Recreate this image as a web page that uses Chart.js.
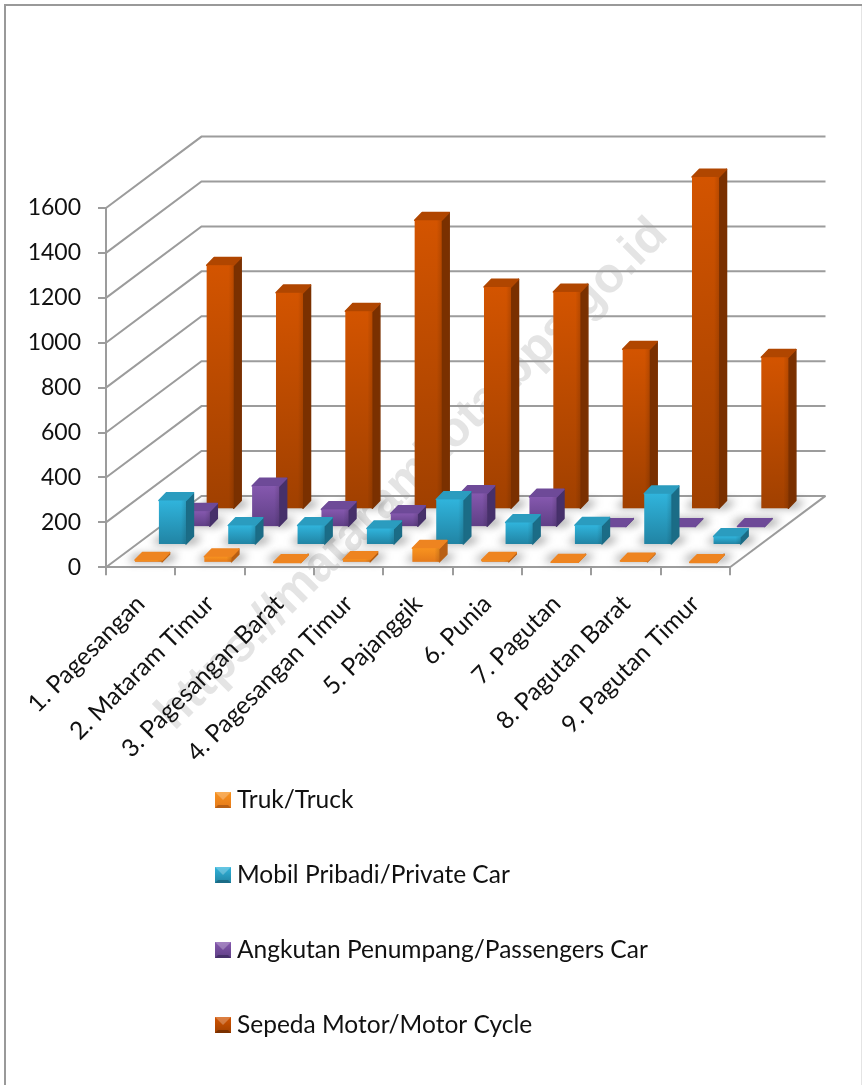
<!DOCTYPE html>
<html>
<head>
<meta charset="utf-8">
<title>Kendaraan</title>
<script src="https://cdn.jsdelivr.net/npm/chart.js@4/dist/chart.umd.min.js"></script>
<style>
    html, body { margin: 0; padding: 0; background: #fff; overflow: hidden; }
    #wrap { position: relative; width: 862px; height: 1085px; }
    #frame { position: absolute; left: 4px; top: 4px; width: 900px; height: 1200px; border: 2px solid #999; box-sizing: border-box; }
    #rightEdge { position: absolute; left: 861px; top: 6px; width: 1px; height: 1079px; background: #e4e4e4; }
    canvas { position: absolute; left: 0; top: 0; filter: blur(0.35px); }
</style>
</head>
<body>
<div id="wrap">
    <div id="frame"></div>
    <div id="rightEdge"></div>
    <canvas id="chart" width="862" height="1085"></canvas>
</div>
<script>
// Data
const categories = ['1. Pagesangan', '2. Mataram Timur', '3. Pagesangan Barat', '4. Pagesangan Timur', '5. Pajanggik', '6. Punia', '7. Pagutan', '8. Pagutan Barat', '9. Pagutan Timur'];
const truk = [12, 27, 2, 15, 65, 12, 3, 8, 2];
const mobil = [198, 87, 87, 73, 203, 100, 88, 228, 38];
const angkutan = [71, 183, 79, 61, 150, 134, 3, 3, 3];
const motor = [1087, 964, 882, 1287, 990, 968, 713, 1480, 677];
const yTicks = [0, 200, 400, 600, 800, 1000, 1200, 1400, 1600];
const seriesNames = ['Truk/Truck', 'Mobil Pribadi/Private Car', 'Angkutan Penumpang/Passengers Car', 'Sepeda Motor/Motor Cycle'];
const watermark = 'https://mataramkota.bps.go.id';

const FONT = 'Lato, Carlito, sans-serif';
const LINE = '#9c9c9c';

// Depth of the floor and of each bar
const DEPTH_X = 95.5, DEPTH_Y = 71.4;
const STEP_X = DEPTH_X / 4, STEP_Y = DEPTH_Y / 4;
const BAR_DX = 7.5, BAR_DY = 7.7;

// Face colours per series: front top, front bottom, side, roof
const palette = [
    { top: '#f8931f', bottom: '#e57a1a', side: '#b85f14', roof: '#ee8420' },
    { top: '#30b4dc', bottom: '#2184a4', side: '#1b6c86', roof: '#2b9cbf' },
    { top: '#8558ae', bottom: '#5f3f86', side: '#46306a', roof: '#6e4a98' },
    { top: '#d35400', bottom: '#a04000', side: '#7a3000', roof: '#b04600' }
];

function prism(bar, i) {
    const w = bar.width;
    const x0 = bar.x + (i + 0.33) * STEP_X - w / 2;
    const shift = (i + 0.25) * STEP_Y;
    return { x0, x1: x0 + w, yt: bar.y - shift, yb: bar.base - shift };
}

function poly(ctx, pts) {
    ctx.beginPath();
    pts.forEach((p, k) => k ? ctx.lineTo(p[0], p[1]) : ctx.moveTo(p[0], p[1]));
    ctx.closePath();
}

class Bar3DController extends Chart.BarController {
    draw() {
        const ctx = this.chart.ctx;
        const i = this.index;
        const c = palette[i];
        this.getMeta().data.forEach(bar => {
            const { x0, x1, yt, yb } = prism(bar, i);
            ctx.save();
            ctx.lineJoin = 'round';
            ctx.lineWidth = 1.5;
            // side
            ctx.fillStyle = c.side;
            ctx.strokeStyle = c.side;
            poly(ctx, [[x1, yt], [x1 + BAR_DX, yt - BAR_DY], [x1 + BAR_DX, yb - BAR_DY], [x1, yb]]);
            ctx.fill();
            ctx.stroke();
            // roof
            ctx.fillStyle = c.roof;
            ctx.strokeStyle = c.roof;
            poly(ctx, [[x0, yt], [x0 + BAR_DX, yt - BAR_DY], [x1 + BAR_DX, yt - BAR_DY], [x1, yt]]);
            ctx.fill();
            ctx.stroke();
            // front
            if (yb - yt > 0.5) {
                const g = ctx.createLinearGradient(0, yt, 0, yb);
                g.addColorStop(0, c.top);
                g.addColorStop(1, c.bottom);
                ctx.fillStyle = g;
                ctx.fillRect(x0, yt, x1 - x0, yb - yt);
                // soft right edge of the front face
                const e = ctx.createLinearGradient(x1 - 5, 0, x1, 0);
                e.addColorStop(0, 'rgba(0,0,0,0)');
                e.addColorStop(1, 'rgba(0,0,0,0.12)');
                ctx.fillStyle = e;
                ctx.fillRect(x1 - 5, yt, 5, yb - yt);
            }
            ctx.restore();
        });
    }
}
Bar3DController.id = 'bar3d';
Bar3DController.defaults = Chart.BarController.defaults;
Bar3DController.overrides = Chart.BarController.overrides;
Chart.register(Bar3DController);

// Watermark sits under everything, axis text included
const watermarkPlugin = {
    id: 'watermark',
    beforeDraw(chart) {
        const ctx = chart.ctx;
        ctx.save();
        ctx.translate(165, 722);
        ctx.rotate(-Math.PI / 4);
        ctx.font = 'bold 49px "Liberation Sans", sans-serif';
        ctx.fillStyle = '#e4e4e4';
        ctx.textBaseline = 'middle';
        ctx.fillText(watermark, 0, 0);
        ctx.restore();
    }
};

// Back wall, side wall and floor of the 3D box, plus the bar shadows on the floor
const boxPlugin = {
    id: 'box',
    beforeDatasetsDraw(chart) {
        const ctx = chart.ctx;
        const { left, right } = chart.chartArea;
        const yScale = chart.scales.y;
        ctx.save();
        ctx.strokeStyle = LINE;
        ctx.lineWidth = 2;
        yTicks.forEach(v => {
            const y = yScale.getPixelForValue(v);
            ctx.beginPath();
            ctx.moveTo(left, y);
            ctx.lineTo(left + DEPTH_X, y - DEPTH_Y);
            ctx.lineTo(right + DEPTH_X, y - DEPTH_Y);
            ctx.stroke();
        });
        const y0 = yScale.getPixelForValue(0);
        ctx.beginPath();
        ctx.moveTo(right, y0);
        ctx.lineTo(right + DEPTH_X, y0 - DEPTH_Y);
        ctx.stroke();

        // blurred footprints
        ctx.fillStyle = 'rgba(70,70,70,0.5)';
        ctx.filter = 'blur(4px)';
        chart.data.datasets.forEach((ds, i) => {
            chart.getDatasetMeta(i).data.forEach(bar => {
                const { x0, x1, yb } = prism(bar, i);
                poly(ctx, [[x0 - 7, yb], [x0 - 7 + BAR_DX, yb - BAR_DY], [x1 + 9 + BAR_DX, yb - BAR_DY], [x1 + 9, yb]]);
                ctx.fill();
            });
        });
        ctx.restore();
    }
};

// Stacked legend with small bevelled squares
const legendPlugin = {
    id: 'stackedLegend',
    afterDraw(chart) {
        const ctx = chart.ctx;
        const rows = [800, 875, 950, 1025];
        const size = 16, x = 215;
        chart.data.datasets.forEach((ds, i) => {
            const c = palette[i];
            const y = rows[i] - size / 2;
            ctx.save();
            const g = ctx.createLinearGradient(0, y, 0, y + size);
            g.addColorStop(0, c.top);
            g.addColorStop(1, c.bottom);
            ctx.fillStyle = g;
            ctx.fillRect(x, y, size, size);
            ctx.fillStyle = c.side;
            poly(ctx, [[x, y + size], [x + 3, y + size - 3], [x + size - 3, y + size - 3], [x + size, y + size]]);
            ctx.fill();
            ctx.fillStyle = 'rgba(255,255,255,0.25)';
            poly(ctx, [[x, y], [x + size, y], [x + size / 2, y + size / 2]]);
            ctx.fill();
            ctx.fillStyle = '#111';
            ctx.font = '24.5px ' + FONT;
            ctx.textBaseline = 'middle';
            ctx.fillText(ds.label, x + 22, rows[i]);
            ctx.restore();
        });
    }
};

function series(i, values) {
    return {
        label: seriesNames[i],
        data: values,
        backgroundColor: palette[i].top,
        grouped: false,
        clip: false,
        categoryPercentage: 1,
        barPercentage: 0.39
    };
}

new Chart(document.getElementById('chart'), {
    type: 'bar3d',
    data: {
        labels: categories,
        datasets: [series(0, truk), series(1, mobil), series(2, angkutan), series(3, motor)]
    },
    options: {
        responsive: false,
        animation: false,
        layout: { padding: { left: 0, top: 208, right: 132, bottom: 0 } },
        plugins: { legend: { display: false }, tooltip: { enabled: false } },
        scales: {
            x: {
                type: 'category',
                offset: true,
                afterFit(scale) { scale.height = 517.7; },
                border: { color: LINE, width: 2 },
                grid: { offset: true, drawOnChartArea: false, color: LINE, lineWidth: 2, tickLength: 8 },
                ticks: {
                    autoSkip: false,
                    maxRotation: 45,
                    minRotation: 45,
                    padding: 14,
                    color: '#111',
                    font: { family: FONT, size: 24.5 }
                }
            },
            y: {
                min: 0,
                max: 1600,
                afterFit(scale) { scale.width = 106; },
                afterBuildTicks(scale) { scale.ticks = yTicks.map(v => ({ value: v })); },
                border: { color: LINE, width: 2 },
                grid: { drawOnChartArea: false, color: LINE, lineWidth: 2, tickLength: 8 },
                ticks: {
                    padding: 17,
                    color: '#111',
                    font: { family: FONT, size: 23 },
                    callback: v => String(v)
                }
            }
        }
    },
    plugins: [watermarkPlugin, boxPlugin, legendPlugin]
});
</script>
</body>
</html>
